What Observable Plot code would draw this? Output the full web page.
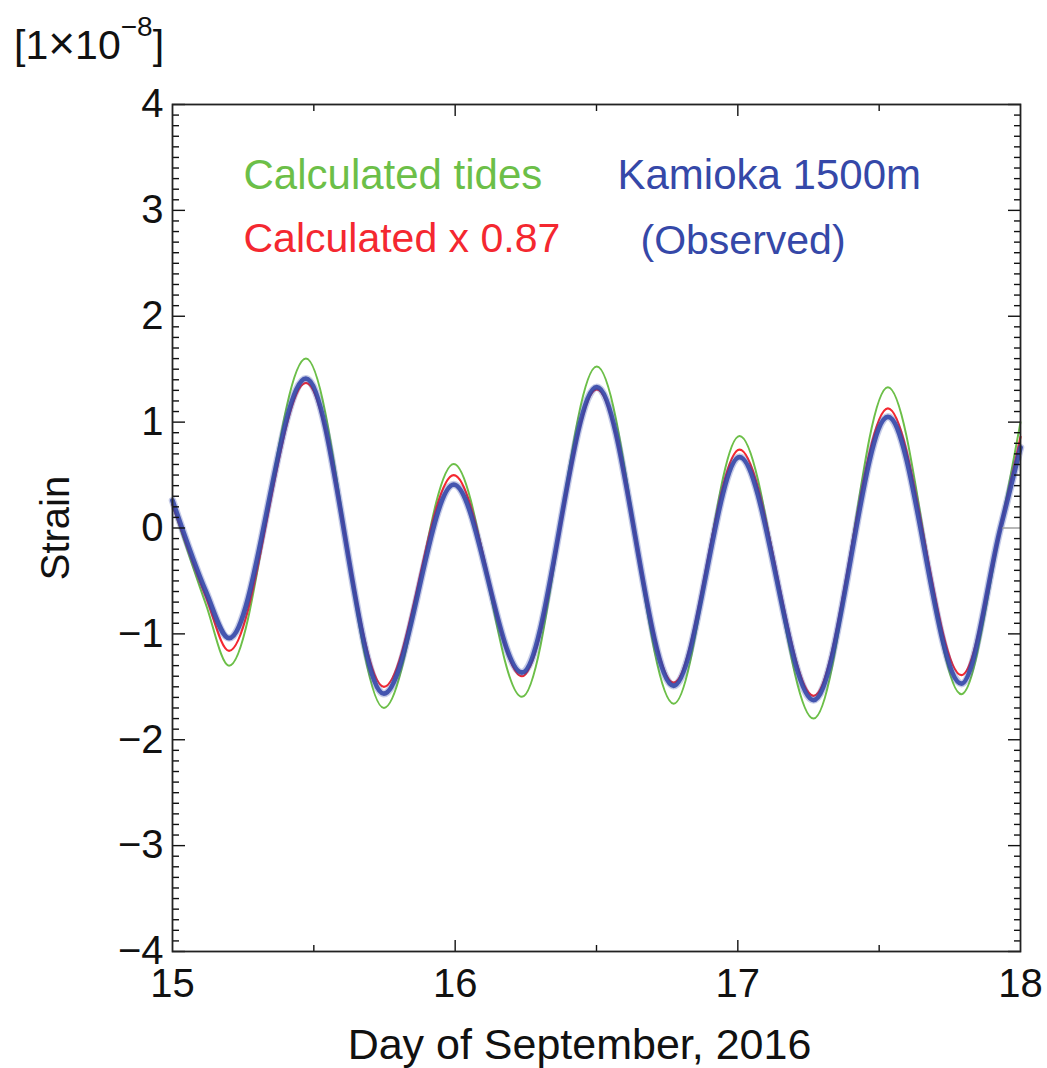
<!DOCTYPE html>
<html>
<head>
<meta charset="utf-8">
<script src="https://cdn.jsdelivr.net/npm/d3@7"></script>
<script src="https://cdn.jsdelivr.net/npm/@observablehq/plot@0.6"></script>
<style>
  html, body { margin: 0; padding: 0; background: #fff; }
  #chart svg { display: block; }
</style>
</head>
<body>
<div id="chart"></div>
<script>
// Day of September 2016 at which values were read (start, extrema, end)
const days = [15.00, 15.118, 15.20, 15.472, 15.748, 15.995,
              16.236, 16.501, 16.773, 17.006, 17.268,
              17.531, 17.791, 17.929, 18.00];
// Calculated tides (green)
const calculated = [0.22, -0.72, -1.30, 1.60, -1.70, 0.605,
                    -1.595, 1.525, -1.66, 0.87, -1.80,
                    1.33, -1.57, 0, 1.00];
// Calculated x 0.87 (red)
const scaled = [0.22, -0.65, -1.16, 1.37, -1.50, 0.50,
                -1.40, 1.31, -1.46, 0.74, -1.585,
                1.13, -1.39, 0, 0.86];
// Kamioka 1500m observed (blue)
const observed = [0.26, -0.60, -1.04, 1.41, -1.565, 0.41,
                  -1.365, 1.33, -1.49, 0.67, -1.625,
                  1.05, -1.47, 0, 0.76];

// Tick values
const yMajor = [-4, -3, -2, -1, 0, 1, 2, 3, 4];
const yMajorRight = [-4, -3, -2, -1, 1, 2, 3, 4];
const yZero = [0];
const yMinor = d3.range(-40, 41).filter(i => i % 10 !== 0).map(i => i / 10);
const xLabels = [15, 16, 17, 18];
const xMajorInner = [16, 17];
const xMinor = [15.5, 16.5, 17.5];

const rows = series => days.map((d, i) => ({day: d, v: series[i]}));
const fmt = d => d < 0 ? "\u2212" + Math.abs(d) : String(d);
const blank = () => "";
const FONT = 'Arial, "Liberation Sans", Helvetica, sans-serif';

const GREEN = "#6cbf48";
const RED = "#f42830";
const BLUE = "#3548a8";

const plot = Plot.plot({
  width: 1047,
  height: 1068,
  marginTop: 104,
  marginBottom: 117,
  marginLeft: 172,
  marginRight: 27,
  style: {fontFamily: FONT, background: "#fff", color: "#111", overflow: "visible"},
  x: {domain: [15, 18]},
  y: {domain: [-4, 4]},
  marks: [
    Plot.lineY(rows(calculated), {x: "day", y: "v", stroke: GREEN, strokeWidth: 2, curve: "monotone-x"}),
    Plot.lineY(rows(scaled), {x: "day", y: "v", stroke: RED, strokeWidth: 2.2, curve: "monotone-x"}),
    Plot.lineY(rows(observed), {x: "day", y: "v", stroke: BLUE, strokeWidth: 7.5, strokeOpacity: 0.28, curve: "monotone-x"}),
    Plot.lineY(rows(observed), {x: "day", y: "v", stroke: BLUE, strokeWidth: 4.8, strokeOpacity: 0.9, curve: "monotone-x"}),

    // y axis labels (left)
    Plot.axisY({ticks: yMajor, anchor: "left", tickSize: 0, tickPadding: 9, tickFormat: fmt, fontSize: 40,
                label: "Strain", labelAnchor: "center", labelArrow: "none", labelOffset: 132}),
    // left ticks (inward)
    Plot.axisY({ticks: yMajor, anchor: "left", tickSize: -13, tickFormat: blank, label: null, stroke: "#111", strokeWidth: 1.4}),
    Plot.axisY({ticks: yMinor, anchor: "left", tickSize: -7, tickFormat: blank, label: null, stroke: "#111", strokeWidth: 1.4}),
    // right ticks (inward)
    Plot.axisY({ticks: yMajorRight, anchor: "right", tickSize: -13, tickFormat: blank, label: null, stroke: "#111", strokeWidth: 1.4}),
    Plot.axisY({ticks: yZero, anchor: "right", tickSize: -19, tickFormat: blank, label: null, stroke: "#999", strokeWidth: 1.4}),
    Plot.axisY({ticks: yMinor, anchor: "right", tickSize: -7, tickFormat: blank, label: null, stroke: "#111", strokeWidth: 1.4}),

    // x axis labels (bottom)
    Plot.axisX({ticks: xLabels, anchor: "bottom", tickSize: 0, tickPadding: 17, tickFormat: d => String(d), fontSize: 40, label: null}),
    // x ticks bottom and top (inward)
    Plot.axisX({ticks: xMajorInner, anchor: "bottom", tickSize: -11, tickFormat: blank, label: null, stroke: "#111", strokeWidth: 1.4}),
    Plot.axisX({ticks: xMinor, anchor: "bottom", tickSize: -6, tickFormat: blank, label: null, stroke: "#111", strokeWidth: 1.4}),
    Plot.axisX({ticks: xMajorInner, anchor: "top", tickSize: -11, tickFormat: blank, label: null, stroke: "#111", strokeWidth: 1.4}),
    Plot.axisX({ticks: xMinor, anchor: "top", tickSize: -6, tickFormat: blank, label: null, stroke: "#111", strokeWidth: 1.4}),

    Plot.frame({stroke: "#222", strokeWidth: 1.8}),

    // x axis title
    Plot.text(["Day of September, 2016"], {frameAnchor: "bottom", text: d => d, dx: -17, dy: 94, lineAnchor: "middle", fill: "#111", fontSize: 43}),

    // legend texts
    Plot.text(["Calculated tides"], {frameAnchor: "top-left", text: d => d, dx: 71, dy: 71, textAnchor: "start", lineAnchor: "middle", fill: GREEN, fontSize: 42}),
    Plot.text(["Calculated x 0.87"], {frameAnchor: "top-left", text: d => d, dx: 71, dy: 134, textAnchor: "start", lineAnchor: "middle", fill: RED, fontSize: 41}),
    Plot.text(["Kamioka 1500m"], {frameAnchor: "top-left", text: d => d, dx: 445, dy: 71, textAnchor: "start", lineAnchor: "middle", fill: BLUE, fontSize: 42}),
    Plot.text(["(Observed)"], {frameAnchor: "top-left", text: d => d, dx: 468, dy: 136, textAnchor: "start", lineAnchor: "middle", fill: BLUE, fontSize: 41})
  ]
});

document.getElementById("chart").appendChild(plot);

// unit label [1×10^−8] at top left
const svg = d3.select(plot);
const unit = svg.append("text")
  .attr("x", 14).attr("y", 59)
  .attr("text-anchor", "start")
  .attr("font-family", FONT).attr("font-size", 41).attr("fill", "#111");
unit.append("tspan").text("[1");
unit.append("tspan").attr("font-size", 46).text("\u00d7");
unit.append("tspan").text("10");
unit.append("tspan").attr("dy", -23).attr("font-size", 28).text("\u22128");
unit.append("tspan").attr("dy", 23).attr("font-size", 41).text("]");
</script>
</body>
</html>
